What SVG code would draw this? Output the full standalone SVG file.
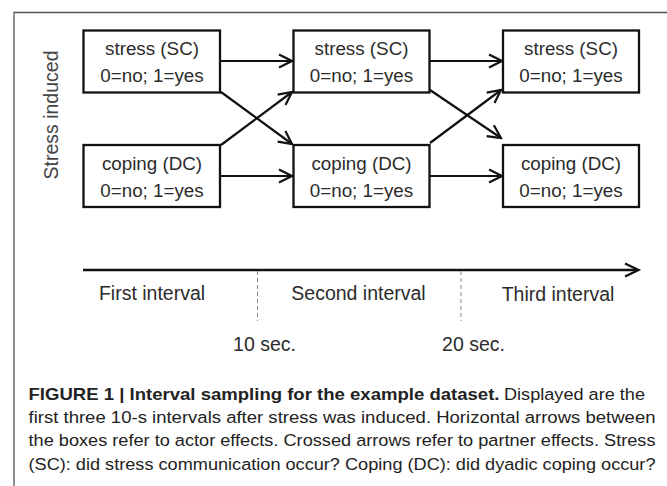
<svg xmlns="http://www.w3.org/2000/svg" width="667" height="486" viewBox="0 0 667 486">
<defs>
<marker id="arr" viewBox="0 0 16 16" refX="14" refY="8" markerWidth="16" markerHeight="16" markerUnits="userSpaceOnUse" orient="auto">
<path d="M1,1.5 L14,8 L1,14.5" fill="none" stroke="#111" stroke-width="2.2"/>
</marker>
<style>
.box{fill:#fff;stroke:#111;stroke-width:2.3}
.bt{font-family:"Liberation Sans",Arial,sans-serif;font-size:18.8px;fill:#2b2b2b;text-anchor:middle}
.tl{font-family:"Liberation Sans",Arial,sans-serif;font-size:19.5px;fill:#2b2b2b;text-anchor:middle}
.con{fill:none;stroke:#111;stroke-width:2.2;marker-end:url(#arr)}
.cap{font-family:"Liberation Sans",Arial,sans-serif;font-size:16.3px;fill:#222}
</style>
</defs>
<rect width="667" height="486" fill="#fff"/>
<path d="M14,486 V12.5 H667" fill="none" stroke="#555" stroke-width="1.3"/>
<text transform="translate(58,115) rotate(-90)" class="tl" style="fill:#444">Stress induced</text>

<g id="connectors">
<line class="con" x1="221" y1="61" x2="292" y2="61"/>
<line class="con" x1="430" y1="61" x2="502" y2="61"/>
<line class="con" x1="221" y1="176" x2="292" y2="176"/>
<line class="con" x1="430" y1="176" x2="502" y2="176"/>
<line class="con" x1="221" y1="92" x2="292" y2="144"/>
<line class="con" x1="221" y1="145" x2="292" y2="92"/>
<line class="con" x1="430" y1="90" x2="501" y2="138"/>
<line class="con" x1="430" y1="143" x2="501" y2="90"/>
</g>

<g id="sc1"><rect class="box" x="83.5" y="30.5" width="136.5" height="62"/><text class="bt" x="152" y="55">stress (SC)</text><text class="bt" x="152" y="82">0=no; 1=yes</text></g>
<g id="sc2"><rect class="box" x="293.5" y="30.5" width="136" height="62"/><text class="bt" x="361.5" y="55">stress (SC)</text><text class="bt" x="361.5" y="82">0=no; 1=yes</text></g>
<g id="sc3"><rect class="box" x="503" y="30.5" width="136" height="62"/><text class="bt" x="571" y="55">stress (SC)</text><text class="bt" x="571" y="82">0=no; 1=yes</text></g>
<g id="dc1"><rect class="box" x="83.5" y="145" width="136.5" height="62"/><text class="bt" x="152" y="170">coping (DC)</text><text class="bt" x="152" y="197">0=no; 1=yes</text></g>
<g id="dc2"><rect class="box" x="293.5" y="145" width="136" height="62"/><text class="bt" x="361.5" y="170">coping (DC)</text><text class="bt" x="361.5" y="197">0=no; 1=yes</text></g>
<g id="dc3"><rect class="box" x="503" y="145" width="136" height="62"/><text class="bt" x="571" y="170">coping (DC)</text><text class="bt" x="571" y="197">0=no; 1=yes</text></g>

<g id="timeline">
<line x1="83" y1="270" x2="638" y2="270" stroke="#111" stroke-width="2.3"/>
<path d="M625,263.5 L638.5,270 L625,276.5" fill="none" stroke="#111" stroke-width="2.3"/>
<line x1="257.5" y1="271" x2="257.5" y2="321" stroke="#888" stroke-width="1" stroke-dasharray="4,3"/>
<line x1="461" y1="271" x2="461" y2="321" stroke="#888" stroke-width="1" stroke-dasharray="4,3"/>
<text class="tl" x="152" y="299.5">First interval</text>
<text class="tl" x="358.5" y="299.5">Second interval</text>
<text class="tl" x="558" y="301">Third interval</text>
<text class="tl" x="264.5" y="350.5">10 sec.</text>
<text class="tl" x="473.5" y="350.5">20 sec.</text>
</g>

<g id="caption">
<text class="cap" x="28.5" y="400" font-weight="bold" textLength="471" lengthAdjust="spacingAndGlyphs">FIGURE 1 | Interval sampling for the example dataset.</text>
<text class="cap" x="504" y="400" textLength="141" lengthAdjust="spacingAndGlyphs">Displayed are the</text>
<text class="cap" x="28.5" y="423" textLength="627" lengthAdjust="spacingAndGlyphs">first three 10-s intervals after stress was induced. Horizontal arrows between</text>
<text class="cap" x="28.5" y="446" textLength="627" lengthAdjust="spacingAndGlyphs">the boxes refer to actor effects. Crossed arrows refer to partner effects. Stress</text>
<text class="cap" x="28.5" y="469.5" textLength="627" lengthAdjust="spacingAndGlyphs">(SC): did stress communication occur? Coping (DC): did dyadic coping occur?</text>
</g>
</svg>
